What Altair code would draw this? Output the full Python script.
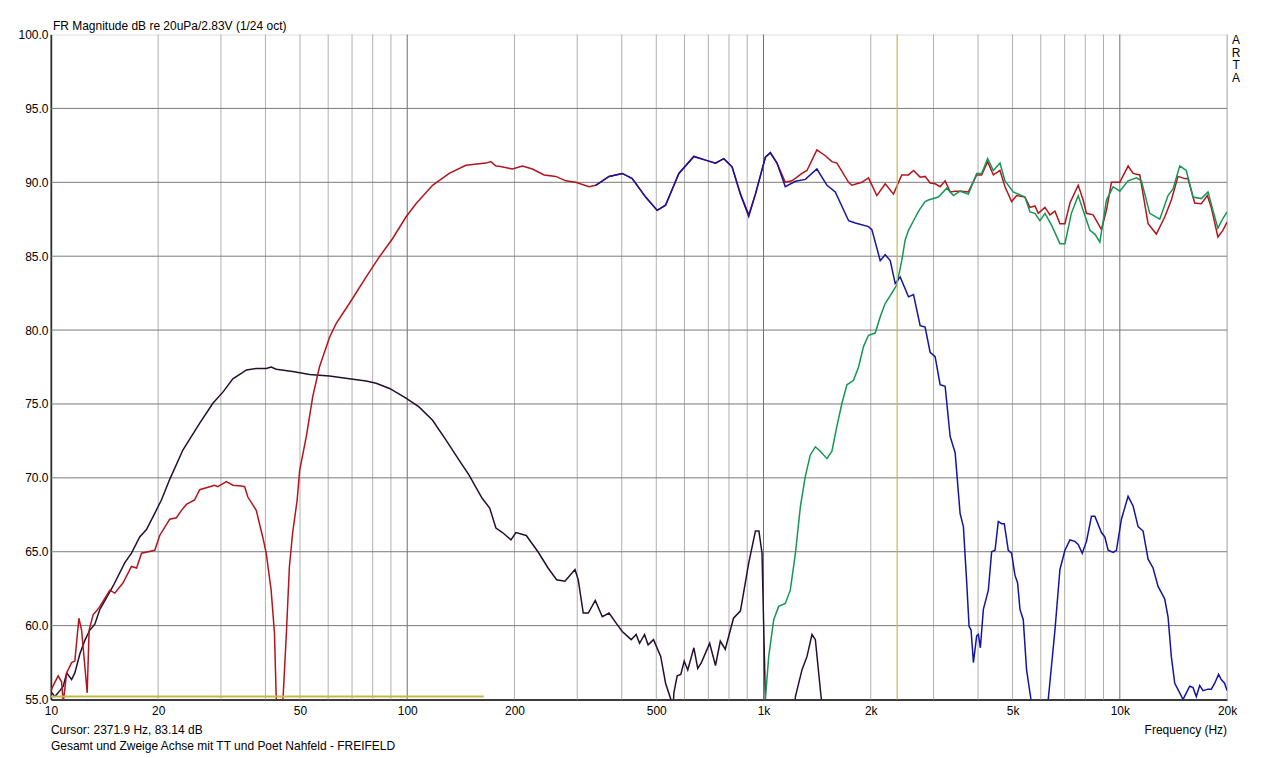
import altair as alt
import pandas as pd

# ---------------- data ----------------
red_f = [10.0, 10.13, 10.48, 10.71, 10.83, 11.07, 11.43, 11.67, 11.98, 12.19, 12.45, 12.64, 12.80,
         13.14, 13.43, 13.72, 14.63, 15.11, 15.94, 16.83, 17.39, 17.96, 19.56, 20.2, 21.55, 22.5,
         23.24, 24.0, 25.3, 26.16, 27.9, 28.8, 29.4, 31.07, 32.4, 34.2, 34.97, 35.7, 37.7, 39.3,
         40.2, 41.5, 42.4, 42.9, 43.8, 44.8, 45.8, 46.7, 47.7, 49.1, 49.9, 52.1, 54.3, 56.7, 60.5,
         63.2, 68.8, 76.7, 83.5, 91.0, 99.2, 105.8, 117.8, 131.2, 146.1, 166.3, 171.7, 177.4,
         181.1, 197.4, 210.6, 224.6, 242.2, 261.2, 278.6, 297.2, 323.8, 338.1, 368.5, 401.4,
         428.1, 466.8, 503.0, 531.0, 578.6, 637.5, 687.5, 733.2, 773.6, 816.0, 861.5, 908.9,
         949.1, 1012, 1045, 1091, 1151, 1202, 1282, 1324, 1412, 1491, 1556, 1607, 1733, 1770,
         1888, 1971, 2080, 2195, 2316, 2443, 2552, 2636, 2752, 2841, 2935, 3031, 3131, 3234,
         3340, 3450, 3598, 3758, 3965, 4094, 4256, 4416, 4610, 4761, 4969, 5133, 5417, 5596,
         5779, 5904, 6165, 6366, 6576, 6791, 7014, 7244, 7642, 7891, 8062, 8418, 8881, 9172,
         9474, 9998, 10549, 10894, 11376, 12004, 12662, 13369, 13952, 14567, 15210, 15531,
         16225, 16931, 17604, 18060, 18848, 19466, 20000]
red_db = [55.6, 55.9, 56.6, 56.2, 54.8, 56.8, 57.5, 57.6, 60.5, 59.7, 57.25, 55.45, 59.7,
          60.75, 61.0, 61.3, 62.4, 62.2, 62.9, 64.0, 63.9, 64.9, 65.1, 66.1, 67.2, 67.3,
          67.8, 68.2, 68.5, 69.2, 69.4, 69.5, 69.4, 69.75, 69.5, 69.45, 69.4, 68.7, 67.8, 66.0,
          64.9, 62.4, 59.5, 55.0, 45.0, 55.0, 59.5, 64.0, 66.3, 68.5, 70.5, 72.8, 75.5, 77.5, 79.5,
          80.45, 81.8, 83.6, 84.95, 86.2, 87.65, 88.55, 89.8, 90.6, 91.15, 91.3, 91.4, 91.1,
          91.08, 90.9, 91.1, 90.9, 90.5, 90.4, 90.1, 90.0, 89.7, 89.8, 90.4, 90.6,
          90.25, 89.0, 88.1, 88.45, 90.6, 91.75, 91.5, 91.3, 91.6, 91.05, 89.2, 87.8,
          89.2, 91.7, 92.0, 91.3, 90.0, 90.1, 90.6, 90.8, 92.2, 91.8, 91.4, 91.3, 90.0, 89.8,
          90.0, 90.3, 89.1, 89.9, 89.2, 90.5, 90.5, 90.8, 90.35, 90.4, 89.95, 89.9, 89.7, 90.1,
          89.35, 89.4, 89.4, 89.35, 90.5, 90.5, 91.4, 90.5, 90.8, 89.7, 88.7, 89.1, 89.0, 88.3,
          88.4, 87.9, 88.3, 87.8, 88.05, 87.2, 87.2, 88.6, 89.8, 88.8, 87.9, 87.8, 86.8, 88.1,
          90.0, 90.0, 91.1, 90.6, 90.5, 87.2, 86.5, 87.65, 88.8, 90.4, 90.25, 90.25,
          88.6, 88.55, 89.1, 88.3, 86.3, 86.75, 87.3]

blue_f = [338.1, 368.5, 401.4, 428.1, 466.8, 503.0, 531.0, 578.6, 637.5, 687.5, 733.2, 773.6,
          816.0, 861.5, 908.9, 949.1, 1012, 1045, 1091, 1151, 1229, 1310, 1412, 1507, 1590,
          1733, 1809, 1971, 2014, 2126, 2195, 2268, 2342, 2419, 2552, 2636, 2752, 2841, 2935,
          3031, 3131, 3234, 3340, 3450, 3562, 3639, 3718, 3775, 3824, 3882, 3965, 4009, 4061,
          4140, 4276, 4368, 4465, 4560, 4658, 4740, 4864, 4968, 5079, 5164, 5246, 5358, 5474,
          5631, 5950, 6297, 6576, 6791, 7014, 7244, 7479, 7642, 7842, 8062, 8326, 8510, 8881,
          9077, 9273, 9577, 9784, 10104, 10549, 10894, 11254, 11623, 12004, 12397, 12804,
          13369, 13656, 13952, 14261, 14729, 15047, 15370, 15710, 16050, 16394, 16757, 17120,
          17681, 18060, 18464, 18935, 19256, 19681, 20000]
blue_db = [89.8, 90.4, 90.6, 90.25, 89.0, 88.1, 88.45, 90.6, 91.75, 91.5, 91.3, 91.6,
           91.05, 89.2, 87.7, 89.2, 91.7, 92.0, 91.3, 89.7, 90.07, 90.2, 90.9, 89.8, 89.35,
           87.4, 87.25, 87.0, 86.8, 84.7, 85.1, 84.7, 83.15, 83.6, 82.25, 82.4, 80.3, 80.2, 78.5,
           78.2, 76.3, 76.2, 72.8, 71.7, 67.6, 66.7, 62.9, 59.95, 59.7, 57.5, 59.3, 59.4, 58.5,
           61.1, 62.4, 65.0, 65.1, 67.05, 66.9, 66.9, 65.1, 64.9, 63.4, 62.9, 61.1, 60.4, 57.0,
           55.0, 48.0, 55.0, 59.7, 63.8, 65.1, 65.8, 65.7, 65.5, 64.9, 65.7, 67.4, 67.4, 66.3,
           66.0, 65.1, 64.95, 65.1, 67.2, 68.75, 68.1, 66.7, 66.4, 64.5, 63.9, 62.65,
           61.8, 60.6, 57.9, 56.1, 55.45, 55.0, 55.45, 55.9, 55.8, 55.2, 55.95, 55.6,
           55.7, 55.7, 56.1, 56.7, 56.35, 56.1, 55.6]

black_f = [10.05, 10.26, 10.6, 10.83, 11.07, 11.43, 11.67, 12.06, 12.45, 12.86, 13.28, 13.72,
           14.33, 14.96, 16.11, 16.83, 17.75, 18.54, 19.56, 20.42, 21.55, 23.48, 26.16, 28.48,
           30.38, 32.4, 35.4, 37.7, 40.2, 41.5, 42.9, 47.7, 53.2, 60.5, 68.8, 76.7, 81.8, 89.2,
           99.2, 107.9, 117.8, 128.1, 139.8, 149.0, 158.9, 162.5, 170.4, 177.4, 185.1, 195.5,
           201.9, 215.8, 232.8, 248.5, 262.6, 277.1, 295.7, 302, 311.9, 322.3, 337.1, 352.8,
           368.5, 384.9, 401.4, 425.2, 439, 448.9, 463.5, 474.3, 491.2, 514.8, 531, 549.5, 554,
           560.2, 572.3, 585.9, 598.9, 612.8, 637.5, 653.7, 669.2, 706, 733.2, 756.4, 780.9,
           823.6, 861.5, 908.9, 949.1, 970.7, 990.4, 1012, 1100, 1229, 1282, 1324, 1368, 1398,
           1453, 1500]
black_db = [55.45, 55.2, 55.6, 55.9, 56.8, 56.35, 56.8, 58.1, 59.0, 59.7, 60.1, 61.1,
            61.9, 62.7, 64.25, 64.9, 66.0, 66.5, 67.6, 68.5, 69.9, 71.9, 73.7, 75.05,
            75.8, 76.7, 77.3, 77.4, 77.4, 77.5, 77.35, 77.2, 77.0, 76.9, 76.7, 76.55, 76.4, 76.05,
            75.4, 74.8, 73.9, 72.6, 71.2, 70.2, 69.0, 68.6, 67.95, 66.6, 66.3, 65.8,
            66.3, 66.1, 65.0, 63.9, 63.1, 63.0, 63.8, 63.1, 60.85, 60.85, 61.7, 60.6,
            60.85, 60.2, 59.6, 59.05, 59.4, 58.8, 59.4, 58.7, 59.05, 57.9, 56.1, 55.0, 53.0,
            55.45, 56.6, 56.7, 57.6, 57.0, 58.5, 57.1, 57.5, 58.8, 57.3, 58.95, 58.4,
            60.5, 61.0, 64.25, 66.4, 66.4, 64.9, 55.0, 40.0, 55.2, 57.0, 57.9, 59.4, 59.05,
            55.0, 45.0]

green_f = [1000, 1012, 1034, 1068, 1103, 1151, 1189, 1229, 1269, 1310, 1353, 1398, 1443, 1507,
           1556, 1607, 1660, 1714, 1789, 1848, 1909, 1971, 2058, 2126, 2195, 2291, 2366, 2443,
           2498, 2552, 2636, 2733, 2841, 2903, 3097, 3268, 3412, 3562, 3758, 3965, 4094, 4256,
           4416, 4610, 4761, 5023, 5417, 5596, 5779, 5968, 6165, 6433, 6791, 7014, 7311, 7642,
           7891, 8243, 8510, 8789, 9172, 9577, 9998, 10549, 11130, 11495, 12134, 12946, 13656,
           14105, 14729, 15370, 16050, 16931, 17681, 18257, 18848, 19466, 20000]
green_db = [50.0, 55.0, 57.9, 60.4, 61.3, 61.5, 62.4, 64.9, 68.05, 70.1, 71.55, 72.1, 71.8, 71.3,
            71.8, 73.5, 75.05, 76.3, 76.6, 77.5, 78.9, 79.65, 79.8, 80.9, 81.8, 82.5, 83.05, 84.7,
            86.1, 86.75, 87.4, 88.1, 88.7, 88.8, 89.0, 89.6, 89.1, 89.4, 89.2, 90.6, 90.6, 91.6,
            90.8, 91.3, 90.1, 89.35, 89.0, 88.0, 87.9, 87.4, 87.9, 87.1, 85.85, 85.85, 87.9, 89.1,
            88.1, 86.75, 86.5, 85.95, 88.8, 89.7, 89.4, 90.1, 90.3, 90.1, 87.9, 87.5, 89.1,
            89.55, 91.1, 90.8, 89.0, 88.9, 89.35, 88.1, 86.9, 87.55, 88.0]

decade_f = [10, 100, 1000, 10000]
minor_f = [m * d for d in [10, 100, 1000] for m in range(2, 10)] + [20000]
level_db = [60, 65, 70, 75, 80, 85, 90, 95]
x_tick_f = [10, 20, 50, 100, 200, 500, 1000, 2000, 5000, 10000, 20000]
y_tick_db = [55, 60, 65, 70, 75, 80, 85, 90, 95, 100]

cursor_f = 2371.9
marker_f = [10, 164]
marker_db = 55.2

title_txt = "FR Magnitude dB re 20uPa/2.83V (1/24 oct)"
cursor_txt = "Cursor: 2371.9 Hz, 83.14 dB"
desc_txt = "Gesamt und Zweige Achse mit TT und Poet Nahfeld - FREIFELD"
xlabel_txt = "Frequency (Hz)"
brand_txt = ["A", "R", "T", "A"]

# ---------------- chart ----------------
FONT = "Liberation Sans"
W, H = 1178, 666

xs = alt.Scale(type="log", domain=[10, 20000], nice=False)
ys = alt.Scale(domain=[55, 100], nice=False, zero=False)

def series(f, db, color):
    df = pd.DataFrame({"f": f, "db": db})
    return alt.Chart(df).mark_line(color=color, strokeWidth=1.5, clip=True).encode(
        x=alt.X("f:Q", scale=xs), y=alt.Y("db:Q", scale=ys))

minor = alt.Chart(pd.DataFrame({"f": minor_f})).mark_rule(color="#b0b0b0", strokeWidth=1).encode(
    x=alt.X("f:Q", scale=xs))
major = alt.Chart(pd.DataFrame({"f": decade_f})).mark_rule(color="#6e6e6e", strokeWidth=1).encode(
    x=alt.X("f:Q", scale=xs))
hgrid = alt.Chart(pd.DataFrame({"db": level_db})).mark_rule(color="#7a7a7a", strokeWidth=1).encode(
    y=alt.Y("db:Q", scale=ys))

axes = alt.Chart(pd.DataFrame({"f": [10, 20000], "db": [55, 100]})).mark_point(opacity=0).encode(
    x=alt.X("f:Q", scale=xs, title=None,
            axis=alt.Axis(values=x_tick_f, grid=False, ticks=False, labelPadding=6,
                          labelFont=FONT, labelFontSize=12, labelColor="#000000",
                          labelExpr="datum.value >= 1000 ? format(datum.value/1000, 'd') + 'k' : format(datum.value, 'd')",
                          labelOverlap=False, labelFlush=False, domainColor="#000000", domainWidth=1.5)),
    y=alt.Y("db:Q", scale=ys, title=None,
            axis=alt.Axis(values=y_tick_db, format=".1f", grid=False, ticks=False, labelPadding=3,
                          labelFont=FONT, labelFontSize=12, labelColor="#000000",
                          labelOverlap=False, labelFlush=False, domainColor="#000000", domainWidth=1.5)))

cursor_v = alt.Chart(pd.DataFrame({"f": [cursor_f]})).mark_rule(color="#c8b84a", strokeWidth=1.2).encode(
    x=alt.X("f:Q", scale=xs))
cursor_h = alt.Chart(pd.DataFrame({"f": [marker_f[0]], "f2": [marker_f[1]], "db": [marker_db]})).mark_rule(
    color="#c8b84a", strokeWidth=2).encode(
    x=alt.X("f:Q", scale=xs), x2="f2:Q", y=alt.Y("db:Q", scale=ys))

def label(txt, x, y, align="left", **kw):
    return alt.Chart(pd.DataFrame({"t": [txt]})).mark_text(
        align=align, baseline="middle", font=FONT, fontSize=12, color="#000000", **kw).encode(
        text="t:N", x=alt.value(x), y=alt.value(y))

t_title = label(title_txt, 2, -9)
t_cursor = label(cursor_txt, 0, 697)
t_desc = label(desc_txt, 0, 713)
t_xlab = label(xlabel_txt, W, 697, align="right")
t_brand = alt.Chart(pd.DataFrame({"t": [brand_txt]})).mark_text(
    align="center", baseline="top", font=FONT, fontSize=12, color="#000000", lineHeight=13).encode(
    text="t", x=alt.value(W + 9), y=alt.value(0))

chart = alt.layer(
    minor, major, hgrid, axes,
    series(black_f, black_db, "#24102e"),
    series(red_f, red_db, "#b4141c"),
    series(green_f, green_db, "#169654"),
    series(blue_f, blue_db, "#1414a0"),
    cursor_v, cursor_h,
    t_title, t_cursor, t_desc, t_xlab, t_brand,
).properties(
    width=W, height=H, autosize="none",
    padding={"left": 43, "top": 26, "right": 45, "bottom": 56},
).configure_view(stroke="#6e6e6e", strokeWidth=1).configure(background="#ffffff")

chart.save("out.html", embed_options={"renderer": "svg", "actions": False})
